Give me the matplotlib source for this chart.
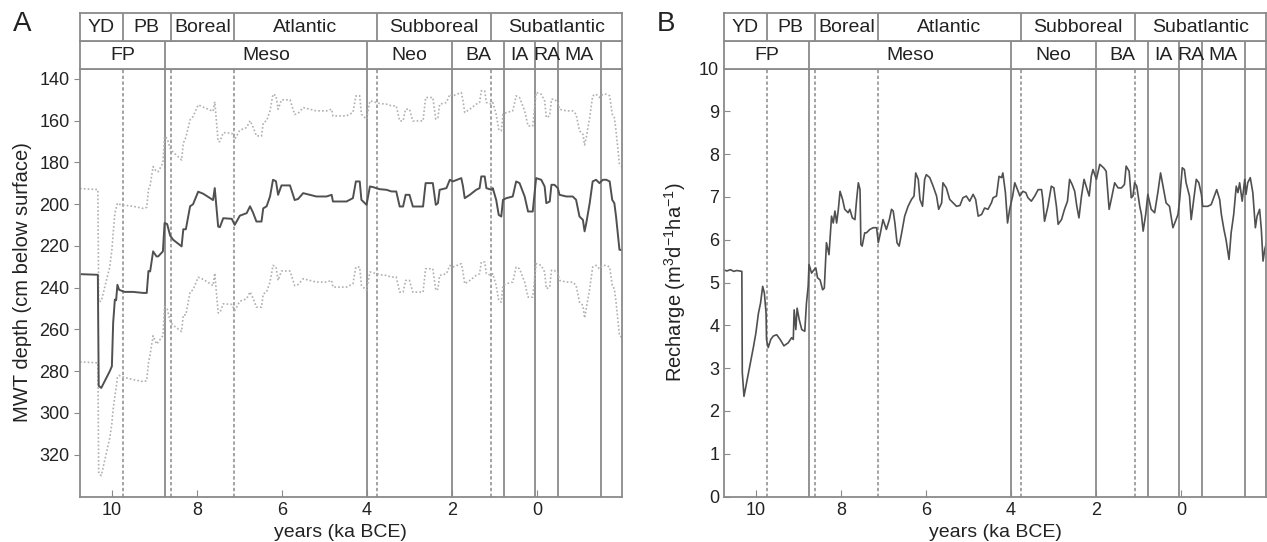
import matplotlib
matplotlib.use("Agg")
import matplotlib.pyplot as plt

plt.rcParams["font.family"] = ["Liberation Sans", "DejaVu Sans"]
plt.rcParams["mathtext.fontset"] = "custom"
plt.rcParams["mathtext.rm"] = "Liberation Sans"
plt.rcParams["mathtext.it"] = "Liberation Sans"

# period bands (ka BCE, negative = CE)
CLIMATE_LABELS = ["YD", "PB", "Boreal", "Atlantic", "Subboreal", "Subatlantic"]
CLIMATE_EDGES = [10.75, 9.75, 8.62, 7.12, 3.77, 1.08, -2.0]
CULTURE_LABELS = ["FP", "Meso", "Neo", "BA", "IA", "RA", "MA", ""]
CULTURE_EDGES = [10.75, 8.75, 4.0, 2.0, 0.78, 0.04, -0.5, -1.5, -2.0]

X_TICKS = [10, 8, 6, 4, 2, 0]

# panel A: mean water table depth with upper / lower bounds
A_YEARS = [10.75, 10.33, 10.31, 10.25, 10.05, 10.00, 9.97, 9.93, 9.90, 9.87,
           9.83, 9.70, 9.50, 9.26, 9.18, 9.14, 9.10, 9.03, 8.95, 8.91,
           8.80, 8.76, 8.70, 8.63, 8.56, 8.36, 8.32, 8.26, 8.16, 8.09,
           7.97, 7.85, 7.62, 7.58, 7.50, 7.46, 7.38, 7.18, 7.11, 6.99,
           6.83, 6.75, 6.68, 6.60, 6.48, 6.44, 6.36, 6.28, 6.21, 6.14,
           6.09, 6.01, 5.81, 5.70, 5.62, 5.50, 5.34, 5.19, 4.95, 4.83,
           4.80, 4.48, 4.33, 4.26, 4.17, 4.13, 4.01, 3.93, 3.86, 3.70,
           3.54, 3.42, 3.31, 3.23, 3.15, 3.09, 3.00, 2.92, 2.68, 2.62,
           2.45, 2.38, 2.33, 2.29, 2.13, 2.05, 1.98, 1.78, 1.74, 1.70,
           1.58, 1.43, 1.35, 1.31, 1.23, 1.19, 1.07, 1.04, 0.96, 0.90,
           0.84, 0.80, 0.72, 0.57, 0.49, 0.41, 0.29, 0.21, 0.10, 0.02,
           -0.10, -0.18, -0.22, -0.30, -0.34, -0.41, -0.49, -0.53, -0.69, -0.84,
           -0.92, -1.00, -1.08, -1.12, -1.16, -1.24, -1.31, -1.39, -1.47, -1.55,
           -1.63, -1.71, -1.77, -1.82, -1.86, -1.90, -1.94, -2.00]
A_DEPTH = [233.5, 233.8, 287.0, 288.0, 280.0, 277.6, 256.8, 245.7, 246.0, 238.6,
           241.0, 242.0, 242.0, 242.5, 242.5, 232.0, 232.2, 222.6, 225.0, 225.0,
           222.6, 209.0, 209.5, 215.0, 217.0, 220.2, 212.0, 212.0, 201.0, 200.0,
           194.0, 195.0, 198.0, 192.3, 210.7, 211.0, 206.7, 207.0, 209.9, 205.5,
           204.3, 201.0, 204.0, 208.3, 208.3, 202.0, 201.0, 196.3, 188.3, 189.0,
           195.5, 191.0, 191.0, 198.0, 197.5, 194.7, 195.5, 196.3, 196.3, 195.5,
           198.7, 198.7, 197.1, 189.1, 189.1, 197.9, 200.3, 191.5, 191.8, 192.8,
           193.1, 193.9, 193.9, 201.1, 201.1, 195.5, 195.5, 201.1, 201.1, 189.9,
           189.9, 200.3, 199.5, 193.1, 192.3, 188.3, 189.1, 187.5, 191.5, 197.1,
           195.5, 193.1, 192.3, 186.7, 186.7, 192.3, 193.1, 192.3, 197.9, 205.1,
           205.9, 197.9, 197.1, 196.3, 189.1, 189.9, 196.3, 203.5, 203.5, 187.5,
           188.3, 191.5, 199.5, 198.7, 190.7, 190.7, 192.3, 195.5, 196.3, 196.3,
           197.9, 205.9, 207.5, 213.0, 209.0, 199.5, 189.1, 188.3, 189.9, 188.3,
           188.3, 189.1, 197.9, 199.5, 205.9, 213.8, 221.8, 222.0]
A_UPPER = [192.5, 193.0, 246.5, 246.5, 230.0, 221.8, 214.0, 204.3, 202.0, 199.5,
           200.0, 200.5, 201.0, 202.0, 201.5, 193.0, 191.0, 182.0, 184.4, 184.4,
           180.3, 167.6, 168.5, 173.2, 175.0, 178.8, 170.8, 168.0, 159.6, 158.0,
           152.4, 153.5, 155.5, 150.9, 170.0, 170.0, 165.7, 166.0, 168.9, 164.5,
           163.3, 160.0, 163.0, 167.3, 167.3, 161.0, 160.0, 155.3, 147.3, 148.0,
           154.5, 150.0, 150.0, 157.0, 156.5, 153.7, 154.5, 155.3, 155.3, 154.5,
           157.7, 157.7, 156.1, 148.1, 148.1, 156.9, 159.3, 150.5, 150.8, 151.8,
           152.1, 152.9, 152.9, 160.1, 160.1, 154.5, 154.5, 160.1, 160.1, 148.9,
           148.9, 159.3, 158.5, 152.1, 151.3, 147.3, 148.1, 146.5, 150.5, 156.1,
           154.5, 152.1, 151.3, 145.7, 145.7, 151.3, 152.1, 151.3, 156.9, 164.1,
           164.9, 156.9, 156.1, 155.3, 148.1, 148.9, 155.3, 162.5, 162.5, 146.5,
           147.3, 150.5, 158.5, 157.7, 149.7, 149.7, 151.3, 154.5, 155.3, 155.3,
           156.9, 164.9, 166.5, 171.6, 168.0, 158.5, 148.1, 147.3, 148.9, 147.3,
           147.3, 148.1, 156.9, 158.5, 164.9, 172.8, 180.8, 182.0]
A_LOWER = [275.5, 276.0, 329.0, 330.0, 312.0, 305.0, 298.0, 292.0, 288.0, 283.0,
           282.0, 283.0, 284.0, 285.0, 284.5, 276.0, 272.0, 263.0, 267.0, 266.0,
           263.0, 249.0, 250.0, 256.0, 258.0, 261.0, 253.0, 253.0, 242.0, 241.0,
           235.0, 236.0, 239.0, 233.0, 252.0, 252.0, 247.7, 248.0, 250.9, 246.5,
           245.3, 242.0, 245.0, 249.3, 249.3, 243.0, 242.0, 237.3, 229.3, 230.0,
           236.5, 232.0, 232.0, 239.0, 238.5, 235.7, 236.5, 237.3, 237.3, 236.5,
           239.7, 239.7, 238.1, 230.1, 230.1, 238.9, 241.3, 232.5, 232.8, 233.8,
           234.1, 234.9, 234.9, 242.1, 242.1, 236.5, 236.5, 242.1, 242.1, 230.9,
           230.9, 241.3, 240.5, 234.1, 233.3, 229.3, 230.1, 228.5, 232.5, 238.1,
           236.5, 234.1, 233.3, 227.7, 227.7, 233.3, 234.1, 233.3, 238.9, 246.1,
           246.9, 238.9, 238.1, 237.3, 230.1, 230.9, 237.3, 244.5, 244.5, 228.5,
           229.3, 232.5, 240.5, 239.7, 231.7, 231.7, 233.3, 236.5, 237.3, 237.3,
           238.9, 246.9, 248.5, 254.5, 250.0, 240.5, 230.1, 229.3, 230.9, 229.3,
           229.3, 230.1, 238.9, 240.5, 246.9, 254.8, 262.8, 264.0]

# panel B: recharge
B_YEARS = [10.75, 10.68, 10.60, 10.52, 10.45, 10.33, 10.32, 10.28, 10.06, 10.00,
           9.94, 9.89, 9.84, 9.80, 9.76, 9.75, 9.71, 9.65, 9.59, 9.51,
           9.43, 9.34, 9.24, 9.16, 9.12, 9.10, 9.06, 9.03, 8.98, 8.92,
           8.85, 8.81, 8.77, 8.75, 8.69, 8.63, 8.59, 8.55, 8.49, 8.43,
           8.39, 8.34, 8.28, 8.22, 8.18, 8.14, 8.10, 8.06, 8.02, 7.96,
           7.91, 7.83, 7.79, 7.73, 7.67, 7.63, 7.59, 7.55, 7.53, 7.50,
           7.44, 7.40, 7.32, 7.24, 7.16, 7.12, 7.07, 7.01, 6.93, 6.86,
           6.81, 6.77, 6.73, 6.68, 6.63, 6.57, 6.50, 6.42, 6.34, 6.28,
           6.24, 6.18, 6.14, 6.08, 6.03, 5.99, 5.91, 5.83, 5.75, 5.70,
           5.63, 5.60, 5.52, 5.44, 5.36, 5.28, 5.20, 5.13, 5.05, 4.97,
           4.89, 4.83, 4.77, 4.69, 4.62, 4.54, 4.46, 4.42, 4.34, 4.28,
           4.22, 4.19, 4.13, 4.08, 4.03, 3.96, 3.91, 3.83, 3.79, 3.72,
           3.65, 3.60, 3.52, 3.44, 3.36, 3.28, 3.25, 3.21, 3.13, 3.05,
           2.99, 2.93, 2.89, 2.81, 2.74, 2.67, 2.62, 2.56, 2.50, 2.45,
           2.40, 2.34, 2.28, 2.23, 2.16, 2.11, 2.07, 1.99, 1.91, 1.82,
           1.76, 1.69, 1.64, 1.56, 1.48, 1.40, 1.33, 1.29, 1.22, 1.17,
           1.13, 1.09, 1.04, 0.97, 0.93, 0.89, 0.83, 0.78, 0.70, 0.62,
           0.54, 0.48, 0.43, 0.35, 0.27, 0.19, 0.13, 0.07, 0.03, -0.03,
           -0.08, -0.12, -0.20, -0.24, -0.30, -0.36, -0.42, -0.48, -0.51, -0.63,
           -0.71, -0.77, -0.84, -0.91, -0.95, -1.01, -1.06, -1.13, -1.18, -1.24,
           -1.30, -1.34, -1.38, -1.44, -1.50, -1.53, -1.57, -1.63, -1.69, -1.75,
           -1.79, -1.85, -1.89, -1.93, -1.97, -2.01]
B_RECHARGE = [5.29, 5.27, 5.30, 5.26, 5.28, 5.26, 2.90, 2.34, 3.48, 3.82,
              4.28, 4.52, 4.91, 4.75, 4.28, 3.67, 3.48, 3.67, 3.75, 3.78,
              3.67, 3.52, 3.59, 3.71, 3.67, 4.36, 3.90, 4.40, 4.13, 3.90,
              3.86, 4.52, 4.91, 5.42, 5.22, 5.30, 5.34, 5.11, 5.06, 4.83,
              4.87, 5.93, 5.65, 6.55, 6.39, 6.67, 6.39, 6.71, 7.13, 6.94,
              6.71, 6.63, 6.71, 6.51, 6.47, 6.94, 7.33, 7.17, 5.89, 5.85,
              6.16, 6.16, 6.24, 6.28, 6.28, 5.93, 6.16, 6.47, 6.24, 6.47,
              6.71, 6.67, 6.39, 5.93, 5.85, 6.16, 6.55, 6.78, 6.94, 7.02,
              7.56, 7.41, 6.94, 6.78, 7.41, 7.52, 7.45, 7.25, 7.02, 6.71,
              6.86, 7.33, 7.21, 6.94, 6.86, 6.78, 6.80, 6.98, 7.02, 6.90,
              7.06, 6.94, 6.55, 6.59, 6.74, 6.71, 6.86, 6.98, 7.02, 7.48,
              7.45, 7.56, 7.10, 6.39, 6.71, 7.02, 7.33, 7.13, 7.02, 7.13,
              7.10, 6.98, 6.90, 7.02, 7.17, 7.17, 6.94, 6.43, 6.78, 7.25,
              7.21, 6.78, 6.36, 6.47, 6.71, 6.90, 7.41, 7.29, 7.13, 6.78,
              6.51, 7.02, 7.41, 7.25, 7.02, 7.48, 7.64, 7.41, 7.76, 7.68,
              7.60, 6.71, 6.94, 7.33, 7.21, 7.21, 7.29, 7.72, 7.60, 6.98,
              7.02, 7.33, 7.25, 6.78, 6.59, 6.20, 6.59, 7.06, 6.71, 6.63,
              7.13, 7.56, 7.29, 6.86, 6.78, 6.28, 6.43, 6.59, 6.94, 7.68,
              7.64, 7.33, 7.02, 6.47, 6.94, 7.41, 7.33, 7.06, 6.78, 6.78,
              6.82, 6.98, 7.17, 6.94, 6.59, 6.24, 6.00, 5.54, 6.16, 6.59,
              7.25, 7.10, 7.33, 6.90, 7.41, 7.06, 7.33, 7.45, 7.10, 6.28,
              6.55, 6.71, 6.24, 5.50, 5.77, 5.93]

W, H = 1267, 542
XLIM = (10.75, -2.0)
EDGE = "#8a8a8a"
TEXT = "#222222"


def px(v, total):
    return v / total


def draw_panel(fig, left_px, letter, xlabel_x=0.5):
    left = px(left_px, W)
    width = px(542, W)
    bottom = px(H - 496.5, H)
    height = px(428, H)
    row = px(28, H)

    ax = fig.add_axes([left, bottom, width, height])
    bot_row = fig.add_axes([left, bottom + height, width, row])
    top_row = fig.add_axes([left, bottom + height + row, width, row])

    # header bands
    for hax, labels, edges in ((top_row, CLIMATE_LABELS, CLIMATE_EDGES),
                               (bot_row, CULTURE_LABELS, CULTURE_EDGES)):
        hax.set_xlim(XLIM)
        hax.set_ylim(0, 1)
        hax.set_xticks([])
        hax.set_yticks([])
        for s in hax.spines.values():
            s.set_color(EDGE)
            s.set_linewidth(1.3)
        for e in edges[1:-1]:
            hax.axvline(e, color=EDGE, lw=1.3)
        for a, b, lab in zip(edges[:-1], edges[1:], labels):
            hax.text((a + b) / 2, 0.47, lab, ha="center", va="center",
                     fontsize=14, color=TEXT)

    # period boundaries in the plot
    for e in CLIMATE_EDGES[1:-1]:
        ax.axvline(e, color=EDGE, lw=1.1, ls=(0, (2.2, 1.6)))
    for e in CULTURE_EDGES[1:-1]:
        ax.axvline(e, color=EDGE, lw=1.3)

    ax.set_xlim(XLIM)
    ax.set_xticks(X_TICKS)
    ax.set_xticklabels([str(t) for t in X_TICKS])
    ax.tick_params(axis="x", direction="in", length=5, color=EDGE,
                   labelsize=13, labelcolor=TEXT, pad=4)
    for s in ax.spines.values():
        s.set_color(EDGE)
        s.set_linewidth(1.3)
    ax.set_xlabel("years (ka BCE)", fontsize=14, color=TEXT, labelpad=3)
    ax.xaxis.set_label_coords(xlabel_x, -0.065)

    fig.text(px(left_px - 58, W), px(H - 24, H), letter, fontsize=20,
             color=TEXT, ha="center", va="center")
    return ax


fig = plt.figure(figsize=(W / 100, H / 100), dpi=100)

ax_a = draw_panel(fig, 80, "A", xlabel_x=0.48)
ax_a.plot(A_YEARS, A_UPPER, color="#b0b0b0", lw=1.2, ls=(0, (1, 1.3)))
ax_a.plot(A_YEARS, A_LOWER, color="#b0b0b0", lw=1.2, ls=(0, (1, 1.3)))
ax_a.plot(A_YEARS, A_DEPTH, color="#505050", lw=1.4)
ax_a.set_ylim(340, 135)
ax_a.set_yticks(range(140, 321, 20))
ax_a.tick_params(axis="y", direction="out", length=4, color=EDGE,
                 labelsize=13, labelcolor=TEXT)
ax_a.set_ylabel("MWT depth (cm below surface)", fontsize=14.5, color=TEXT,
                labelpad=5)

ax_b = draw_panel(fig, 724, "B")
ax_b.plot(B_YEARS, B_RECHARGE, color="#505050", lw=1.2)
ax_b.set_ylim(0, 10)
ax_b.set_yticks(range(0, 11))
ax_b.tick_params(axis="y", direction="in", length=4, color=EDGE,
                 labelsize=13, labelcolor=TEXT)
ax_b.set_ylabel(r"Recharge (m$^{3}$d$^{-1}$ha$^{-1}$)", fontsize=14.5,
                color=TEXT, labelpad=8)

fig.savefig("out.png", dpi=100)
